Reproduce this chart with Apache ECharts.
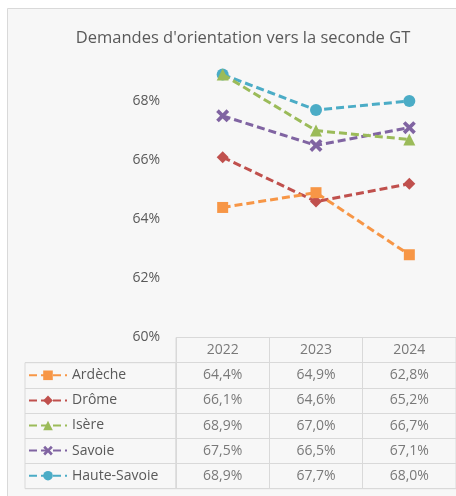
<!DOCTYPE html>
<html>
<head>
<meta charset="utf-8">
<script src="https://cdn.jsdelivr.net/npm/echarts@6/dist/echarts.min.js"></script>
<style>
html, body { margin:0; padding:0; background:#fff; }
#main { width:456px; height:496px; }
</style>
</head>
<body>
<div id="main"></div>
<script>
// donnees
var years = ['2022', '2023', '2024'];
var names = ['Ardèche', 'Drôme', 'Isère', 'Savoie', 'Haute-Savoie'];
var ardeche = [64.4, 64.9, 62.8];
var drome = [66.1, 64.6, 65.2];
var isere = [68.9, 67.0, 66.7];
var savoie = [67.5, 66.5, 67.1];
var hauteSavoie = [68.9, 67.7, 68.0];
var yTicks = [60, 62, 64, 66, 68];

var values = [ardeche, drome, isere, savoie, hauteSavoie];
var colors = ['#f79646', '#c0504d', '#9bbb59', '#8064a2', '#4bacc6'];
var symbols = ['rect', 'diamond', 'triangle',
	'path://M2,0 L5,3 L8,0 L10,2 L7,5 L10,8 L8,10 L5,7 L2,10 L0,8 L3,5 L0,2 Z',
	'circle'];
var symbolSizes = [11, 12, 12, 13, 12];

var txt = '#595959';
var grid_line = '#d9d9d9';
var fnt = '"Open Sans", sans-serif';

var myChart = echarts.init(document.getElementById('main'));

// table : largeur colonne
var colW = 94.5, rowH = 25.2;
var tableTop = 337.5;

var series = [];
for (var i = 0; i < names.length; i++) {
	series.push({
		name: names[i],
		type: 'line',
		xAxisIndex: 0,
		yAxisIndex: 0,
		data: values[i],
		symbol: symbols[i],
		symbolSize: symbolSizes[i],
		itemStyle: { color: colors[i] },
		lineStyle: { color: colors[i], width: 3, type: [8, 4] },
		z: 10 - i
	});
}

// cellules du tableau
var cells = [];
for (var j = 0; j < years.length; j++) {
	cells.push({ value: [years[j], 'header'], txt: years[j] });
}
for (var i = 0; i < names.length; i++) {
	for (var j = 0; j < years.length; j++) {
		cells.push({ value: [years[j], names[i]], txt: values[i][j].toFixed(1).replace('.', ',') + '%' });
	}
}
series.push({
	type: 'scatter',
	xAxisIndex: 1,
	yAxisIndex: 1,
	symbolSize: 0,
	silent: true,
	data: cells,
	label: {
		show: true,
		position: 'inside',
		color: txt,
		fontFamily: fnt,
		fontSize: 14,
		formatter: function(p) { return p.data.txt; }
	}
});
// colonne des libelles (vide, seulement pour les lignes)
series.push({
	type: 'scatter',
	xAxisIndex: 2,
	yAxisIndex: 2,
	symbolSize: 0,
	silent: true,
	data: []
});

var option = {
	backgroundColor: '#ffffff',
	animation: false,
	textStyle: { fontFamily: fnt },
	graphic: [{
		type: 'rect',
		shape: { x: 7.5, y: 8.5, width: 460, height: 500 },
		style: { fill: '#f7f7f7', stroke: '#d9d9d9', lineWidth: 1 },
		z: -10
	}],
	title: {
		text: "Demandes d'orientation vers la seconde GT",
		left: 238,
		textAlign: 'center',
		top: 25,
		textStyle: { color: txt, fontSize: 16.5, fontWeight: 'normal', fontFamily: fnt }
	},
	legend: {
		orient: 'vertical',
		left: 28,
		top: tableTop + rowH * 1.5 - 7,
		padding: 0,
		height: 200,
		itemWidth: 38,
		itemHeight: 12,
		itemGap: rowH - 14.1,
		data: names,
		textStyle: { color: txt, fontSize: 14, fontFamily: fnt }
	},
	grid: [
		{ left: 176, top: 71.5, width: colW * 3, height: tableTop - 71.5 },
		{ left: 176, top: tableTop, width: colW * 3, height: rowH * 6, show: true, borderColor: grid_line, borderWidth: 1 },
		{ left: 25, top: tableTop + rowH, width: 151, height: rowH * 5, show: true, borderColor: grid_line, borderWidth: 1 }
	],
	xAxis: [
		{ gridIndex: 0, type: 'category', data: years, boundaryGap: true,
			axisLine: { show: false }, axisTick: { show: false }, axisLabel: { show: false } },
		{ gridIndex: 1, type: 'category', data: years, boundaryGap: true,
			axisLine: { show: false }, axisTick: { show: false }, axisLabel: { show: false },
			splitLine: { show: true, lineStyle: { color: grid_line, width: 1 } } },
		{ gridIndex: 2, type: 'value', show: false }
	],
	yAxis: [
		{ gridIndex: 0, type: 'value', min: 60, max: 69, interval: 2,
			axisLine: { show: false }, axisTick: { show: false }, splitLine: { show: false },
			axisLabel: { color: txt, fontSize: 14, fontFamily: fnt, margin: 16, showMaxLabel: false,
				formatter: function(v) { return yTicks.indexOf(v) >= 0 ? v + '%' : ''; } } },
		{ gridIndex: 1, type: 'category', data: ['header'].concat(names), inverse: true, boundaryGap: true,
			axisLine: { show: false }, axisTick: { show: false }, axisLabel: { show: false },
			splitLine: { show: true, lineStyle: { color: grid_line, width: 1 } } },
		{ gridIndex: 2, type: 'category', data: names, inverse: true, boundaryGap: true,
			axisLine: { show: false }, axisTick: { show: false }, axisLabel: { show: false },
			splitLine: { show: true, lineStyle: { color: grid_line, width: 1 } } }
	],
	series: series
};

myChart.setOption(option);
</script>
</body>
</html>
